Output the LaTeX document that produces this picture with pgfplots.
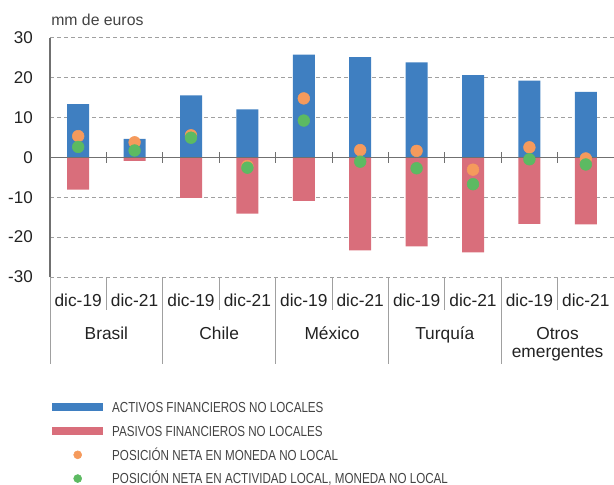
\documentclass[border=0pt]{standalone}
\usepackage{fontspec}
\setmainfont{Liberation Sans}
\newfontfamily\legfont[FakeStretch=0.8]{Liberation Sans}
\usepackage{pgfplots}
\pgfplotsset{compat=1.18}

\definecolor{activos}{HTML}{3F7FC1}
\definecolor{pasivos}{HTML}{D96E7B}
\definecolor{posmon}{HTML}{F59A5C}
\definecolor{posact}{HTML}{5CBA62}
\definecolor{axisgray}{HTML}{707070}
\definecolor{gridgray}{HTML}{A0A0A0}
\definecolor{txt}{HTML}{222222}

\begin{document}
\begin{tikzpicture}
\begin{scope}[x=0.75pt,y=0.75pt]
\node[anchor=base west, inner sep=0pt, text=txt!85, font=\fontsize{11.85}{14}\selectfont] at (51,-26) {mm de euros};
\end{scope}

\begin{axis}[
  at={(37.5pt,-207.75pt)}, anchor=south west,
  scale only axis, width=423pt, height=179.6pt,
  xmin=-0.5, xmax=9.5, ymin=-30, ymax=30,
  axis x line*=bottom, axis y line*=left,
  x axis line style={draw=none},
  y axis line style={axisgray, line width=1.5pt},
  major tick length=0pt, tick style={draw=none},
  xtick={0,...,9},
  xticklabels={dic-19,dic-21,dic-19,dic-21,dic-19,dic-21,dic-19,dic-21,dic-19,dic-21},
  ytick={-30,-20,-10,0,10,20,30},
  yticklabels={-30,-20,-10,0,10,20,30},
  ymajorgrids,
  grid style={gridgray, line width=0.7pt, dash pattern=on 3pt off 2.25pt},
  yticklabel style={font=\fontsize{12.75}{15}\selectfont, text=txt, inner sep=0pt, anchor=east, xshift=-12.75pt},
  xticklabel style={font=\fontsize{13}{15}\selectfont, text=txt, inner sep=0pt, anchor=base, yshift=-21.75pt},
  clip=false,
  legend style={at={(axis description cs:0.0035,-0.5215)}, anchor=north west,
    draw=none, fill=none, inner sep=0pt, row sep=10pt, column sep=6.75pt,
    font=\legfont\fontsize{10.9}{13}\selectfont, text=txt!85,
    nodes={inner sep=0pt, text height=7.8pt, text depth=0pt}},
  legend cell align=left,
]
% activos (positive)
\addplot[ybar, bar width=16.5pt, bar shift=0pt, fill=activos, draw=none,
  legend image code/.code={\fill[activos] (0pt,-3pt) rectangle (38.25pt,3pt);}]
  coordinates {(0,13.3) (1,4.6) (2,15.5) (3,12.0) (4,25.7) (5,25.1) (6,23.8) (7,20.6) (8,19.2) (9,16.4)};
% pasivos (negative)
\addplot[ybar, bar width=16.5pt, bar shift=0pt, fill=pasivos, draw=none,
  legend image code/.code={\fill[pasivos] (0pt,-3pt) rectangle (38.25pt,3pt);}]
  coordinates {(0,-8.1) (1,-0.9) (2,-10.2) (3,-14.1) (4,-10.9) (5,-23.3) (6,-22.3) (7,-23.8) (8,-16.7) (9,-16.8)};

\draw[axisgray, line width=1pt] (axis cs:-0.5,0) -- (axis cs:9.5,0);
\pgfplotsinvokeforeach{0.5,1.5,2.5,3.5,4.5,5.5,6.5,7.5,8.5}{
  \draw[axisgray, line width=0.75pt] (axis cs:#1,0) ++(0pt,-4pt) -- ++(0pt,8pt);
}

% posicion neta en moneda no local
\addplot[only marks, color=posmon, mark=*, mark size=4.4pt, mark options={draw=none, fill=posmon},
  legend image code/.code={\path[draw=none] (0pt,0pt) -- (38.25pt,0pt); \fill[posmon] (19.1pt,0pt) circle (3pt);}]
  coordinates {(0,5.3) (1,3.75) (2,5.5) (3,-2.2) (4,14.75) (5,1.8) (6,1.6) (7,-3.1) (8,2.5) (9,-0.3)};
% posicion neta en actividad local
\addplot[only marks, color=posact, mark=*, mark size=4.4pt, mark options={draw=none, fill=posact},
  legend image code/.code={\path[draw=none] (0pt,0pt) -- (38.25pt,0pt); \fill[posact] (19.1pt,0pt) circle (3pt);}]
  coordinates {(0,2.6) (1,1.7) (2,4.9) (3,-2.6) (4,9.2) (5,-1.1) (6,-2.75) (7,-6.75) (8,-0.5) (9,-1.8)};

% category separators
\pgfplotsinvokeforeach{-0.5,1.5,3.5,5.5,7.5}{
  \draw[gridgray, line width=0.75pt] (axis cs:#1,-30) -- ++(0pt,-65.25pt);
}
\pgfplotsinvokeforeach{0.5,2.5,4.5,6.5,8.5}{
  \draw[gridgray, line width=0.75pt] (axis cs:#1,-30) -- ++(0pt,-24.75pt);
}
% group names
\node[anchor=base, inner sep=0pt, text=txt, font=\fontsize{13}{15}\selectfont, yshift=-46.5pt] at (axis cs:0.5,-30) {Brasil};
\node[anchor=base, inner sep=0pt, text=txt, font=\fontsize{13}{15}\selectfont, yshift=-46.5pt] at (axis cs:2.5,-30) {Chile};
\node[anchor=base, inner sep=0pt, text=txt, font=\fontsize{13}{15}\selectfont, yshift=-46.5pt] at (axis cs:4.5,-30) {México};
\node[anchor=base, inner sep=0pt, text=txt, font=\fontsize{13}{15}\selectfont, yshift=-46.5pt] at (axis cs:6.5,-30) {Turquía};
\node[anchor=base, inner sep=0pt, text=txt, font=\fontsize{13}{15}\selectfont, yshift=-46.5pt] at (axis cs:8.5,-30) {Otros};
\node[anchor=base, inner sep=0pt, text=txt, font=\fontsize{13}{15}\selectfont, yshift=-60pt] at (axis cs:8.5,-30) {emergentes};

\legend{ACTIVOS FINANCIEROS NO LOCALES, PASIVOS FINANCIEROS NO LOCALES, POSICIÓN NETA EN MONEDA NO LOCAL, {POSICIÓN NETA EN ACTIVIDAD LOCAL, MONEDA NO LOCAL}}
\end{axis}

\pgfresetboundingbox
\path[use as bounding box] (0pt,0pt) rectangle (460.5pt,-363.75pt);
\end{tikzpicture}
\end{document}
